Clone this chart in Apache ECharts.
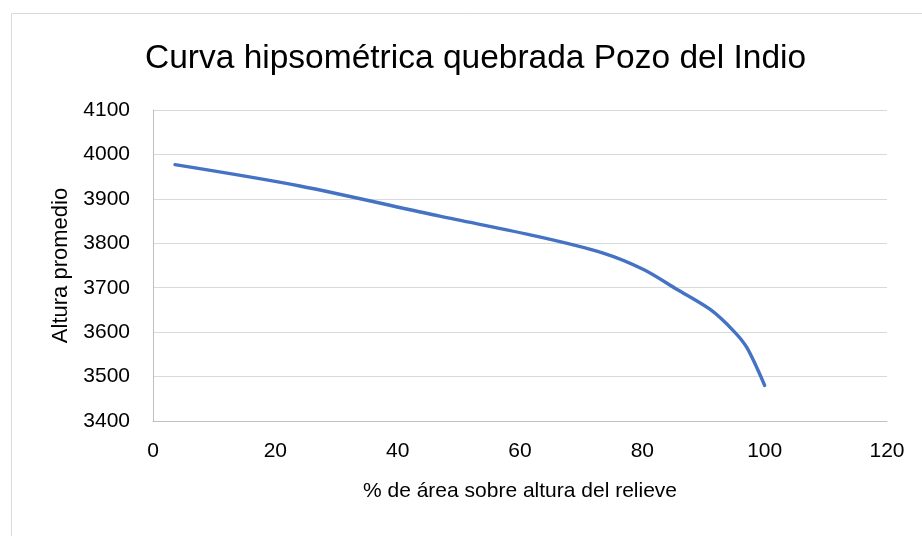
<!DOCTYPE html>
<html>
<head>
<meta charset="utf-8">
<script src="https://cdn.jsdelivr.net/npm/echarts@6/dist/echarts.min.js"></script>
<style>
html,body{margin:0;padding:0;background:#fff;}
#c{width:922px;height:536px;}
</style>
</head>
<body>
<div id="c"></div>
<script>
var titleText = 'Curva hipsométrica quebrada Pozo del Indio';
var xName = '% de área sobre altura del relieve';
var yName = 'Altura promedio';
var areaPct = [3.6, 24, 46.9, 63, 73.6, 80.2, 85.7, 91.1, 94.9, 97.1, 100];
var altura  = [3977, 3929, 3861, 3815, 3778, 3741, 3696, 3651, 3603, 3565, 3480];
var xTicks = [0, 20, 40, 60, 80, 100, 120];
var yTicks = [3400, 3500, 3600, 3700, 3800, 3900, 4000, 4100];

var chart = echarts.init(document.getElementById('c'), null, {renderer: 'canvas'});
var font = 'Liberation Sans';
var pts = areaPct.map(function (v, i) { return [v, altura[i]]; });
chart.setOption({
  animation: false,
  backgroundColor: '#ffffff',
  textStyle: {fontFamily: font},
  graphic: [{
    type: 'rect', left: 9, top: 11, shape: {width: 940, height: 560},
    style: {fill: 'none', stroke: '#d9d9d9', lineWidth: 1}, z: -1
  }],
  title: {
    text: titleText, left: 140, top: 37,
    textStyle: {fontFamily: font, fontSize: 33.5, fontWeight: 'normal', color: '#000'}
  },
  grid: {left: 153, right: 35, top: 110, bottom: 115},
  xAxis: {
    type: 'value', min: xTicks[0], max: xTicks[xTicks.length - 1], interval: 20,
    name: xName, nameLocation: 'middle', nameGap: 60,
    nameTextStyle: {fontFamily: font, fontSize: 21, color: '#000'},
    axisLine: {show: true, lineStyle: {color: '#bfbfbf', width: 1}},
    axisTick: {show: false},
    axisLabel: {fontFamily: font, fontSize: 21, color: '#000', margin: 20},
    splitLine: {show: false}
  },
  yAxis: {
    type: 'value', min: yTicks[0], max: yTicks[yTicks.length - 1], interval: 100,
    name: yName, nameLocation: 'middle', nameGap: 80, nameRotate: 90,
    nameTextStyle: {fontFamily: font, fontSize: 22, color: '#000'},
    axisLine: {show: true, lineStyle: {color: '#bfbfbf', width: 1}},
    axisTick: {show: false},
    axisLabel: {fontFamily: font, fontSize: 21, color: '#000', margin: 23,
      formatter: function (v) { return String(v); }},
    splitLine: {show: true, lineStyle: {color: '#d9d9d9', width: 1}}
  },
  series: [{
    type: 'line', data: pts, smooth: 0.3, showSymbol: false,
    lineStyle: {color: '#4472c4', width: 3.4, cap: 'round'}
  }]
});
</script>
</body>
</html>
